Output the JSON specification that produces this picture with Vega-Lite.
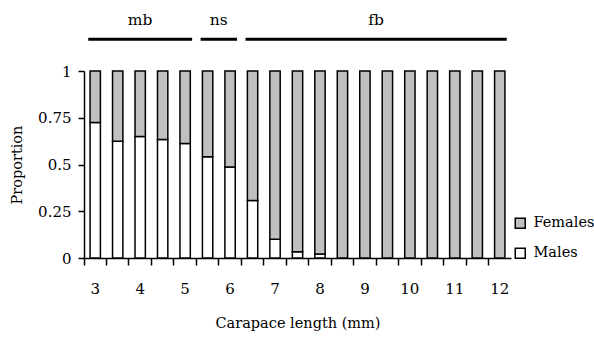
{
  "$schema": "https://vega.github.io/schema/vega-lite/v6.json",
  "width": 427,
  "height": 187,
  "autosize": {"type": "none"},
  "padding": {"left": 84, "top": 71, "right": 83, "bottom": 80},
  "background": "white",
  "config": {
    "font": "DejaVu Serif",
    "view": {"stroke": null},
    "axis": {
      "domainColor": "black",
      "domainWidth": 1.5,
      "tickColor": "black",
      "tickWidth": 1.5,
      "labelColor": "black",
      "labelFont": "DejaVu Serif",
      "labelFontSize": 15,
      "titleFont": "DejaVu Serif",
      "titleFontSize": 14.5,
      "titleFontWeight": "normal",
      "titleColor": "black",
      "grid": false
    },
    "legend": {
      "labelFont": "DejaVu Serif",
      "labelFontSize": 14.5,
      "labelColor": "black"
    }
  },
  "datasets": {
    "bars": [
      {"length": 3, "sex": "Males", "proportion": 0.725},
      {"length": 3, "sex": "Females", "proportion": 0.275},
      {"length": 3.5, "sex": "Males", "proportion": 0.625},
      {"length": 3.5, "sex": "Females", "proportion": 0.375},
      {"length": 4, "sex": "Males", "proportion": 0.65},
      {"length": 4, "sex": "Females", "proportion": 0.35},
      {"length": 4.5, "sex": "Males", "proportion": 0.634},
      {"length": 4.5, "sex": "Females", "proportion": 0.366},
      {"length": 5, "sex": "Males", "proportion": 0.612},
      {"length": 5, "sex": "Females", "proportion": 0.388},
      {"length": 5.5, "sex": "Males", "proportion": 0.541},
      {"length": 5.5, "sex": "Females", "proportion": 0.459},
      {"length": 6, "sex": "Males", "proportion": 0.486},
      {"length": 6, "sex": "Females", "proportion": 0.514},
      {"length": 6.5, "sex": "Males", "proportion": 0.307},
      {"length": 6.5, "sex": "Females", "proportion": 0.693},
      {"length": 7, "sex": "Males", "proportion": 0.1},
      {"length": 7, "sex": "Females", "proportion": 0.9},
      {"length": 7.5, "sex": "Males", "proportion": 0.033},
      {"length": 7.5, "sex": "Females", "proportion": 0.967},
      {"length": 8, "sex": "Males", "proportion": 0.022},
      {"length": 8, "sex": "Females", "proportion": 0.978},
      {"length": 8.5, "sex": "Males", "proportion": 0},
      {"length": 8.5, "sex": "Females", "proportion": 1},
      {"length": 9, "sex": "Males", "proportion": 0},
      {"length": 9, "sex": "Females", "proportion": 1},
      {"length": 9.5, "sex": "Males", "proportion": 0},
      {"length": 9.5, "sex": "Females", "proportion": 1},
      {"length": 10, "sex": "Males", "proportion": 0},
      {"length": 10, "sex": "Females", "proportion": 1},
      {"length": 10.5, "sex": "Males", "proportion": 0},
      {"length": 10.5, "sex": "Females", "proportion": 1},
      {"length": 11, "sex": "Males", "proportion": 0},
      {"length": 11, "sex": "Females", "proportion": 1},
      {"length": 11.5, "sex": "Males", "proportion": 0},
      {"length": 11.5, "sex": "Females", "proportion": 1},
      {"length": 12, "sex": "Males", "proportion": 0},
      {"length": 12, "sex": "Females", "proportion": 1}
    ],
    "groups": [
      {"group": "mb", "from": 3, "to": 5, "labelAt": 4, "edge": "center"},
      {"group": "ns", "from": 5.5, "to": 6, "labelAt": 5.5, "edge": "right"},
      {"group": "fb", "from": 6.5, "to": 12, "labelAt": 9, "edge": "right"}
    ]
  },
  "layer": [
    {
      "data": {"name": "bars"},
      "mark": {"type": "bar", "stroke": "black", "strokeWidth": 1.5, "width": {"band": 0.46}},
      "encoding": {
        "x": {
          "field": "length",
          "type": "ordinal",
          "title": "Carapace length (mm)",
          "scale": {
            "domain": [3, 3.5, 4, 4.5, 5, 5.5, 6, 6.5, 7, 7.5, 8, 8.5, 9, 9.5, 10, 10.5, 11, 11.5, 12],
            "paddingInner": 0,
            "paddingOuter": 0
          },
          "axis": {
            "labelAngle": 0,
            "bandPosition": 0,
            "labelOffset": 0,
            "tickSize": 7,
            "labelPadding": 16,
            "titlePadding": 20,
            "labelExpr": "datum.value % 1 == 0 ? datum.label : ''"
          }
        },
        "y": {
          "field": "proportion",
          "type": "quantitative",
          "stack": "zero",
          "title": "Proportion",
          "scale": {"domain": [0, 1], "nice": false},
          "axis": {
            "values": [0, 0.25, 0.5, 0.75, 1],
            "labelExpr": "'' + datum.value",
            "tickSize": 6,
            "labelPadding": 7,
            "titlePadding": 13
          }
        },
        "color": {
          "field": "sex",
          "type": "nominal",
          "scale": {"domain": ["Females", "Males"], "range": ["#c0c0c0", "#ffffff"]},
          "legend": {
            "title": null,
            "orient": "none",
            "legendX": 429,
            "legendY": 145,
            "padding": 0,
            "symbolType": "square",
            "symbolSize": 100,
            "symbolStrokeColor": "black",
            "symbolStrokeWidth": 1.5,
            "symbolOpacity": 1,
            "labelOffset": 6,
            "rowPadding": 13
          }
        },
        "order": {"field": "sex", "sort": "descending"}
      }
    },
    {
      "data": {"name": "groups"},
      "mark": {"type": "rule", "color": "black", "strokeWidth": 3, "xOffset": -7, "x2Offset": 7},
      "encoding": {
        "x": {"field": "from", "type": "ordinal", "title": "Carapace length (mm)"},
        "x2": {"field": "to"},
        "y": {"datum": 1.17, "type": "quantitative", "title": "Proportion"}
      }
    },
    {
      "data": {"name": "groups"},
      "transform": [{"filter": "datum.edge == 'center'"}],
      "mark": {"type": "text", "fontSize": 15.5, "font": "DejaVu Serif", "color": "black", "align": "center", "baseline": "alphabetic"},
      "encoding": {
        "x": {"field": "labelAt", "type": "ordinal", "bandPosition": 0.5, "title": "Carapace length (mm)"},
        "y": {"datum": 1.244, "type": "quantitative", "title": "Proportion"},
        "text": {"field": "group"}
      }
    },
    {
      "data": {"name": "groups"},
      "transform": [{"filter": "datum.edge == 'right'"}],
      "mark": {"type": "text", "fontSize": 15.5, "font": "DejaVu Serif", "color": "black", "align": "center", "baseline": "alphabetic"},
      "encoding": {
        "x": {"field": "labelAt", "type": "ordinal", "bandPosition": 1, "title": "Carapace length (mm)"},
        "y": {"datum": 1.244, "type": "quantitative", "title": "Proportion"},
        "text": {"field": "group"}
      }
    }
  ]
}
